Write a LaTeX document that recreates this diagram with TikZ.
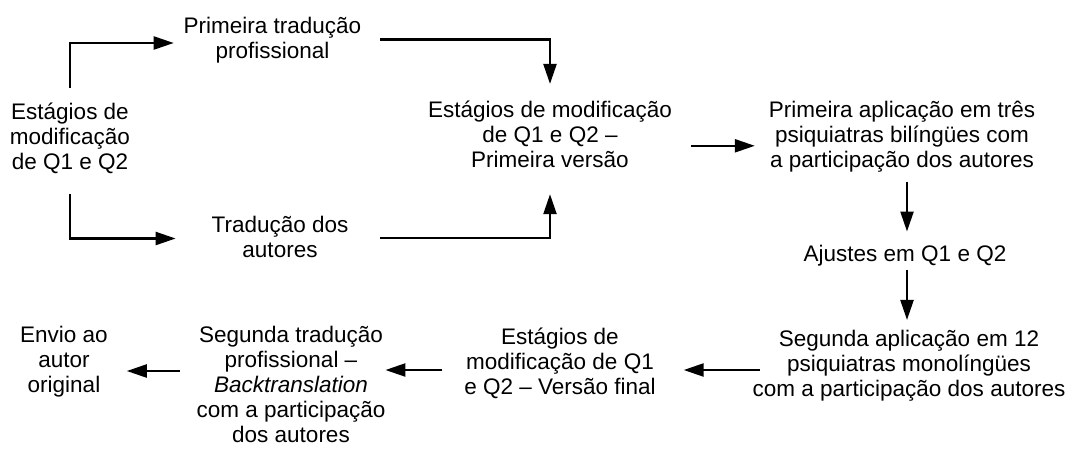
\documentclass[tikz,border=0pt]{standalone}
\usepackage{fontspec}
\setmainfont{Liberation Sans}
\usetikzlibrary{arrows.meta}
\begin{document}
\begin{tikzpicture}[x=1pt,y=-1pt,
  every node/.style={inner sep=0pt,outer sep=0pt,align=center,font=\fontsize{22.5}{25}\selectfont},
  arr/.style={line width=2.3pt,-{Triangle[length=20pt,width=13pt]}}]
\useasboundingbox (0,0) rectangle (1070,451);
\node (L)  at (70,138.5)  {Estágios de\\modificação\\de Q1 e Q2};
\node (P)  at (272.5,40.3) {Primeira tradução\\profissional};
\node (T)  at (280,236.7) {Tradução dos\\autores};
\node (C)  at (550,134.8) {Estágios de modificação\\de Q1 e Q2 –\\Primeira versão};
\node (R1) at (902,137)   {Primeira aplicação em três\\psiquiatras bilíngües com\\a participação dos autores};
\node (A)  at (905,256)   {Ajustes em Q1 e Q2};
\node (R2) at (909,366)   {Segunda aplicação em 12\\psiquiatras monolíngües\\com a participação dos autores};
\node (EF) at (560,363.5) {Estágios de\\modificação de Q1\\e Q2 – Versão final};
\node (ST) at (291,384.4) {Segunda tradução\\profissional –\\\textit{Backtranslation}\\com a participação\\dos autores};
\node (EN) at (64,362)    {Envio ao\\autor\\original};
% left branches
\draw[arr] ([yshift=15.5pt]L.north) |- ([xshift=-10pt,yshift=-2.7pt]P.west);
\draw[arr] ([yshift=-20.5pt]L.south) |- ([xshift=-36pt,yshift=-1.8pt]T.west);
% into center
\draw[arr] ([xshift=19pt,yshift=0.8pt]P.east) -| ([yshift=17.5pt]C.north);
\draw[arr] ([xshift=32pt,yshift=-1.3pt]T.east) -| ([yshift=-26pt]C.south);
% center to right
\draw[arr] ([xshift=19pt,yshift=-11pt]C.east) coordinate (c1) -- ([xshift=-14pt]c1 -| R1.west);
% down the right column
\draw[arr] ([xshift=5pt,yshift=-9.4pt]R1.south) coordinate (r1) -- ([yshift=14pt]r1 |- A.north);
\draw[arr] ([xshift=2pt,yshift=-3.5pt]A.south) coordinate (a1) -- ([yshift=10.5pt]a1 |- R2.north);
% bottom row leftwards
\draw[arr] ([xshift=7pt,yshift=-4pt]R2.west) coordinate (r2) -- ([xshift=28pt]r2 -| EF.east);
\draw[arr] ([xshift=-22pt,yshift=-6.5pt]EF.west) coordinate (e1) -- (e1 -| ST.east);
\draw[arr] ([xshift=-17pt,yshift=13.4pt]ST.west) coordinate (s1) -- ([xshift=19pt]s1 -| EN.east);
\end{tikzpicture}
\end{document}
